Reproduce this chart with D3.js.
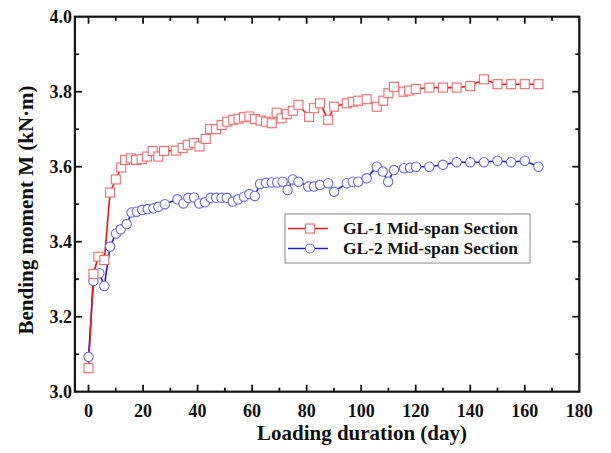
<!DOCTYPE html>
<html>
<head>
<meta charset="utf-8">
<script src="https://cdn.jsdelivr.net/npm/d3@7"></script>
<style>
  body { margin: 0; background: #fff; }
  text { font-family: "Liberation Serif", "Times New Roman", serif; font-weight: bold; fill: #111; }
</style>
</head>
<body>
<div id="chart-area"></div>
<script>
// GL-1 (red squares)
const gl1Days = [0, 1.8, 3.6, 5.8, 7.9, 10, 12, 13.4, 15.5, 17.4, 19.5, 21.4, 23.5, 25.6, 27.7,
  32, 34.5, 36.4, 38.7, 40.7, 43, 44.6, 46.8, 48.8, 50.9, 53.1, 55, 57, 59, 61, 63.1, 65.1, 67.2,
  69, 70.8, 72.7, 74.9, 77, 80.9, 82.7, 84.9, 87.9, 90.1, 94.7, 96.9, 98.9, 102, 105.7, 108.1,
  110, 112, 115.5, 117.6, 120, 125, 130, 135, 140, 145, 150, 155, 160, 165];
const gl1Moment = [3.063, 3.314, 3.36, 3.351, 3.531, 3.566, 3.598, 3.618, 3.622, 3.618, 3.62, 3.627,
  3.642, 3.627, 3.642, 3.643, 3.65, 3.658, 3.663, 3.654, 3.674, 3.70, 3.70, 3.711, 3.72, 3.725,
  3.728, 3.732, 3.734, 3.727, 3.723, 3.72, 3.716, 3.744, 3.729, 3.74, 3.749, 3.765, 3.733, 3.756,
  3.769, 3.725, 3.76, 3.769, 3.773, 3.776, 3.78, 3.76, 3.776, 3.796, 3.813, 3.80, 3.803, 3.807,
  3.811, 3.811, 3.811, 3.815, 3.833, 3.82, 3.82, 3.82, 3.82];

// GL-2 (blue circles)
const gl2Days = [0, 1.8, 4, 5.8, 7.9, 10.1, 11.8, 14, 15.8, 17.7, 19.7, 21.7, 23.8, 25.6, 28,
  32.6, 34.8, 36.6, 38.7, 40.6, 42.7, 44.8, 46.8, 48.8, 50.7, 52.9, 54.9, 57, 59, 61, 62.9, 65.1,
  67.2, 69.2, 71.2, 73, 74.9, 77, 80.6, 82.7, 84.9, 87.9, 90.1, 94.7, 96.9, 98.9, 102, 105.7,
  107.9, 109.9, 112, 115.7, 117.9, 120.1, 125, 130, 135, 140, 145, 150, 155, 160, 165];
const gl2Moment = [3.093, 3.295, 3.316, 3.282, 3.387, 3.422, 3.433, 3.447, 3.478, 3.48, 3.485,
  3.487, 3.489, 3.493, 3.50, 3.513, 3.502, 3.517, 3.518, 3.502, 3.505, 3.517, 3.517, 3.517, 3.517,
  3.507, 3.513, 3.52, 3.527, 3.522, 3.554, 3.557, 3.558, 3.558, 3.56, 3.538, 3.566, 3.56, 3.547,
  3.547, 3.551, 3.556, 3.533, 3.556, 3.56, 3.56, 3.569, 3.60, 3.587, 3.56, 3.591, 3.596, 3.597,
  3.60, 3.60, 3.605, 3.612, 3.612, 3.612, 3.616, 3.612, 3.616, 3.60];

const xTicks = [0, 20, 40, 60, 80, 100, 120, 140, 160, 180];
const xMinor = [10, 30, 50, 70, 90, 110, 130, 150, 170];
const yTicks = [3.0, 3.2, 3.4, 3.6, 3.8, 4.0];
const yMinor = [3.1, 3.3, 3.5, 3.7, 3.9];

const seriesNames = ["GL-1 Mid-span Section", "GL-2 Mid-span Section"];

const W = 611, H = 453;
const pLeft = 74.9, pRight = 579.3, pTop = 16.7, pBottom = 391.7;

const svg = d3.select("#chart-area")
  .append("svg")
  .attr("width", W)
  .attr("height", H);

const x = d3.scaleLinear().domain([-5, 180]).range([pLeft, pRight]);
const y = d3.scaleLinear().domain([3.0, 4.0]).range([pBottom, pTop]);

// frame
svg.append("rect")
  .attr("x", pLeft).attr("y", pTop)
  .attr("width", pRight - pLeft).attr("height", pBottom - pTop)
  .attr("fill", "none").attr("stroke", "#111").attr("stroke-width", 2.2);

// ticks, pointing inward on all four sides
const tickG = svg.append("g").attr("stroke", "#111").attr("stroke-width", 1.8);
function xTickMarks(vals, len) {
  vals.forEach(v => {
    tickG.append("line").attr("x1", x(v)).attr("x2", x(v)).attr("y1", pBottom).attr("y2", pBottom - len);
    tickG.append("line").attr("x1", x(v)).attr("x2", x(v)).attr("y1", pTop).attr("y2", pTop + len);
  });
}
function yTickMarks(vals, len) {
  vals.forEach(v => {
    tickG.append("line").attr("y1", y(v)).attr("y2", y(v)).attr("x1", pLeft).attr("x2", pLeft + len);
    tickG.append("line").attr("y1", y(v)).attr("y2", y(v)).attr("x1", pRight).attr("x2", pRight - len);
  });
}
xTickMarks(xTicks.slice(0, -1), 7);
xTickMarks(xMinor, 4);
yTickMarks(yTicks.slice(1, -1), 7);
yTickMarks(yMinor, 4);

svg.append("g").selectAll("text")
  .data(xTicks)
  .enter()
  .append("text")
  .attr("x", d => x(d))
  .attr("y", pBottom + 25)
  .attr("text-anchor", "middle")
  .style("font-size", "18px")
  .text(d => d);

svg.append("g").selectAll("text")
  .data(yTicks)
  .enter()
  .append("text")
  .attr("x", pLeft - 3)
  .attr("y", d => y(d) + 6)
  .attr("text-anchor", "end")
  .style("font-size", "18px")
  .text(d => d.toFixed(1));

svg.append("text")
  .attr("x", 362)
  .attr("y", 440)
  .attr("text-anchor", "middle")
  .style("font-size", "21px")
  .text("Loading duration (day)");

svg.append("text")
  .attr("transform", "rotate(-90)")
  .attr("x", -210)
  .attr("y", 33)
  .attr("text-anchor", "middle")
  .style("font-size", "21px")
  .text("Bending moment M (kN·m)");

const line = d3.line().x(d => x(d[0])).y(d => y(d[1]));
const gl1 = gl1Days.map((d, i) => [d, gl1Moment[i]]);
const gl2 = gl2Days.map((d, i) => [d, gl2Moment[i]]);

const red = "#ee1a1a", redMark = "#f06a6a";
const blue = "#1c1cd0", blueMark = "#6a6aee";

svg.append("path").datum(gl2)
  .attr("d", line).attr("fill", "none").attr("stroke", blue).attr("stroke-width", 1.6);
svg.append("path").datum(gl1)
  .attr("d", line).attr("fill", "none").attr("stroke", red).attr("stroke-width", 1.6);

svg.append("g").selectAll("circle")
  .data(gl2)
  .enter()
  .append("circle")
  .attr("cx", d => x(d[0]))
  .attr("cy", d => y(d[1]))
  .attr("r", 4.7)
  .attr("fill", "#fff")
  .attr("stroke", blueMark)
  .attr("stroke-width", 1.1);

svg.append("g").selectAll("rect")
  .data(gl1)
  .enter()
  .append("rect")
  .attr("x", d => x(d[0]) - 4.5)
  .attr("y", d => y(d[1]) - 4.5)
  .attr("width", 9)
  .attr("height", 9)
  .attr("fill", "#fff")
  .attr("stroke", redMark)
  .attr("stroke-width", 1.1);

// legend
const lg = svg.append("g");
lg.append("rect")
  .attr("x", 285).attr("y", 214).attr("width", 245).attr("height", 49)
  .attr("fill", "#fff").attr("stroke", "#888").attr("stroke-width", 1);
lg.append("line").attr("x1", 288).attr("x2", 328).attr("y1", 228.5).attr("y2", 228.5)
  .attr("stroke", red).attr("stroke-width", 1.6);
lg.append("rect").attr("x", 305.5).attr("y", 224).attr("width", 9).attr("height", 9)
  .attr("fill", "#fff").attr("stroke", redMark).attr("stroke-width", 1.1);
lg.append("line").attr("x1", 288).attr("x2", 328).attr("y1", 248.5).attr("y2", 248.5)
  .attr("stroke", blue).attr("stroke-width", 1.6);
lg.append("circle").attr("cx", 310).attr("cy", 248.5).attr("r", 4.5)
  .attr("fill", "#fff").attr("stroke", blueMark).attr("stroke-width", 1.1);
lg.selectAll(".lt")
  .data(seriesNames)
  .enter()
  .append("text")
  .attr("class", "lt")
  .attr("x", 343)
  .attr("y", (d, i) => 234 + i * 20)
  .style("font-size", "17.5px")
  .text(d => d);
</script>
</body>
</html>
